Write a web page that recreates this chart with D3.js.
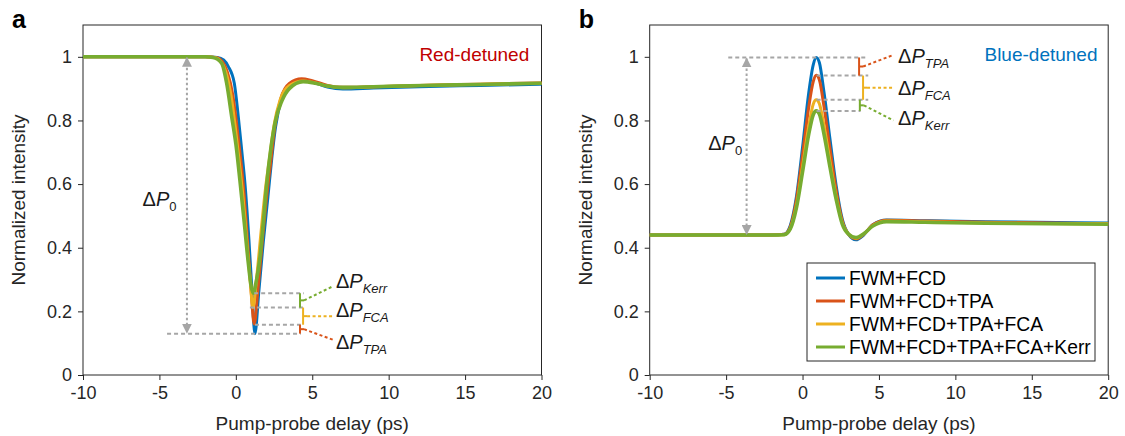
<!DOCTYPE html>
<html>
<head>
<meta charset="utf-8">
<script src="https://cdn.jsdelivr.net/npm/d3@7"></script>
<style>
    body { margin: 0; background: #fff; }
    svg text { font-family: "Liberation Sans", Arial, sans-serif; }
</style>
</head>
<body>
<svg id="chart" width="1125" height="436"></svg>
<script>
// series order: FWM+FCD, +TPA, +FCA, +Kerr
const seriesNames = ["FWM+FCD", "FWM+FCD+TPA", "FWM+FCD+TPA+FCA", "FWM+FCD+TPA+FCA+Kerr"];
const seriesColors = ["#0072BD", "#D95319", "#EDB120", "#77AC30"];
const xTicks = [-10, -5, 0, 5, 10, 15, 20];
const yTicks = [0, 0.2, 0.4, 0.6, 0.8, 1];

// panel a, red-detuned: [delay ps, normalized intensity]
const redFcd = [[-10, 1], [-2, 1], [-1.2, 0.998], [-0.8, 0.99], [-0.5, 0.97], [-0.1, 0.917], [0.16, 0.812],
    [0.38, 0.708], [0.6, 0.6], [0.85, 0.43], [1.05, 0.27], [1.25, 0.13], [1.5, 0.26], [1.8, 0.42], [2.1, 0.56],
    [2.35, 0.68], [2.6, 0.78], [3.0, 0.87], [3.5, 0.912], [4.3, 0.928], [5.0, 0.921], [6.0, 0.905], [7.0, 0.899],
    [9, 0.902], [12, 0.906], [16, 0.91], [20, 0.914]];
const redTpa = [[-10, 1], [-2, 1], [-1.3, 0.998], [-0.9, 0.986], [-0.55, 0.952], [-0.2, 0.88], [0.05, 0.79],
    [0.3, 0.685], [0.52, 0.58], [0.75, 0.43], [0.98, 0.28], [1.2, 0.16], [1.45, 0.27], [1.75, 0.43], [2.05, 0.575],
    [2.25, 0.655], [2.55, 0.78], [2.95, 0.87], [3.5, 0.916], [4.3, 0.931], [5.0, 0.925], [6.0, 0.91], [7.0, 0.904],
    [9, 0.906], [12, 0.91], [16, 0.914], [20, 0.918]];
const redFca = [[-10, 1], [-2, 1], [-1.4, 0.998], [-1.0, 0.986], [-0.65, 0.952], [-0.3, 0.875], [-0.05, 0.785],
    [0.2, 0.68], [0.45, 0.57], [0.7, 0.43], [0.93, 0.3], [1.12, 0.212], [1.35, 0.3], [1.65, 0.45], [1.95, 0.59],
    [2.2, 0.68], [2.5, 0.785], [2.9, 0.865], [3.5, 0.91], [4.4, 0.924], [5.0, 0.92], [6.0, 0.908], [7.0, 0.903],
    [9, 0.906], [12, 0.91], [16, 0.914], [20, 0.917]];
const redKerr = [[-10, 1], [-2, 1], [-1.5, 0.998], [-0.93, 0.98], [-0.6, 0.917], [-0.27, 0.812], [0.05, 0.708],
    [0.27, 0.61], [0.55, 0.48], [0.82, 0.35], [1.0, 0.28], [1.15, 0.257], [1.32, 0.29], [1.58, 0.37], [1.8, 0.48],
    [2.02, 0.6], [2.3, 0.715], [2.6, 0.8], [3.0, 0.86], [3.5, 0.9], [4.4, 0.922], [5.2, 0.917], [6.0, 0.908],
    [6.8, 0.904], [9, 0.906], [12.3, 0.91], [16, 0.913], [20, 0.917]];

// panel b, blue-detuned
const blueFcd = [[-10, 0.44], [-2, 0.44], [-1.2, 0.442], [-0.8, 0.47], [-0.4, 0.56], [0, 0.715], [0.4, 0.885],
    [0.7, 0.975], [0.9, 0.998], [1.1, 0.982], [1.4, 0.89], [1.8, 0.74], [2.2, 0.595], [2.6, 0.49], [3.0, 0.443],
    [3.5, 0.425], [4.0, 0.44], [4.6, 0.472], [5.5, 0.487], [8, 0.485], [12, 0.482], [20, 0.478]];
const blueTpa = [[-10, 0.44], [-2, 0.44], [-1.2, 0.442], [-0.8, 0.466], [-0.4, 0.55], [0, 0.69], [0.4, 0.84],
    [0.7, 0.922], [0.9, 0.942], [1.1, 0.928], [1.4, 0.845], [1.8, 0.71], [2.2, 0.58], [2.6, 0.485], [3.0, 0.443],
    [3.5, 0.428], [4.0, 0.442], [4.6, 0.472], [5.5, 0.486], [8, 0.484], [12, 0.48], [20, 0.476]];
const blueFca = [[-10, 0.44], [-2, 0.44], [-1.2, 0.441], [-0.8, 0.461], [-0.4, 0.533], [0, 0.655], [0.4, 0.78],
    [0.7, 0.851], [0.9, 0.865], [1.1, 0.853], [1.4, 0.785], [1.8, 0.67], [2.2, 0.56], [2.6, 0.478], [3.0, 0.443],
    [3.5, 0.43], [4.0, 0.443], [4.6, 0.47], [5.5, 0.484], [8, 0.482], [12, 0.478], [20, 0.475]];
const blueKerr = [[-10, 0.44], [-2, 0.44], [-1.2, 0.441], [-0.8, 0.459], [-0.4, 0.525], [0, 0.638], [0.4, 0.755],
    [0.7, 0.818], [0.9, 0.83], [1.1, 0.82], [1.4, 0.758], [1.8, 0.652], [2.2, 0.552], [2.6, 0.474], [3.0, 0.443],
    [3.5, 0.432], [4.0, 0.444], [4.6, 0.468], [5.5, 0.482], [8, 0.48], [12, 0.477], [20, 0.474]];

// extreme levels marked by the gray guides (FCD, TPA, FCA, Kerr)
const redLevels = [0.13, 0.158, 0.212, 0.257];
const blueLevels = [0.998, 0.941, 0.865, 0.830];

const svg = d3.select("#chart");
const axisColor = "#262626";
const guideColor = "#A6A6A6";

svg.append("defs").append("marker")
    .attr("id", "arrow")
    .attr("viewBox", "0 0 10 10")
    .attr("refX", 9).attr("refY", 5)
    .attr("markerWidth", 10).attr("markerHeight", 10)
    .attr("markerUnits", "userSpaceOnUse")
    .attr("orient", "auto-start-reverse")
    .append("path")
    .attr("d", "M0,0L10,5L0,10Z")
    .attr("fill", guideColor);

function deltaLabel(g, x, y, sub, italicSub) {
    const t = g.append("text")
        .attr("x", x).attr("y", y)
        .attr("font-size", 20)
        .attr("fill", "#1a1a1a");
    t.append("tspan").text("Δ");
    t.append("tspan").attr("font-style", "italic").text("P");
    t.append("tspan")
        .attr("font-size", 13)
        .attr("dy", 5)
        .attr("font-style", italicSub ? "italic" : "normal")
        .text(sub);
}

function drawPanel(opts) {
    const x = d3.scaleLinear().domain([-10, 20]).range([opts.left, opts.left + 458.5]);
    const y = d3.scaleLinear().domain([0, 1.1]).range([375, 25]);
    const g = svg.append("g");

    // axes
    g.append("g")
        .attr("transform", "translate(0,375)")
        .call(d3.axisBottom(x).tickValues(xTicks).tickSize(5).tickPadding(6).tickFormat(d => String(d)))
        .call(a => a.select(".domain").remove())
        .call(a => a.selectAll("line").attr("stroke", axisColor))
        .call(a => a.selectAll("text").attr("font-size", 18).attr("fill", axisColor));
    g.append("g")
        .attr("transform", `translate(${opts.left},0)`)
        .call(d3.axisLeft(y).tickValues(yTicks).tickSize(5).tickPadding(6).tickFormat(d => String(d)))
        .call(a => a.select(".domain").remove())
        .call(a => a.selectAll("line").attr("stroke", axisColor))
        .call(a => a.selectAll("text").attr("font-size", 18).attr("fill", axisColor));
    g.append("rect")
        .attr("x", x(-10)).attr("y", y(1.1))
        .attr("width", x(20) - x(-10)).attr("height", y(0) - y(1.1))
        .attr("fill", "none").attr("stroke", axisColor).attr("stroke-width", 1);

    g.append("text")
        .attr("x", (x(-10) + x(20)) / 2).attr("y", 430)
        .attr("text-anchor", "middle").attr("font-size", 19).attr("fill", axisColor)
        .text("Pump-probe delay (ps)");
    g.append("text")
        .attr("transform", `translate(${opts.left - 58},${(y(0) + y(1.1)) / 2}) rotate(-90)`)
        .attr("text-anchor", "middle").attr("font-size", 19).attr("fill", axisColor)
        .text("Normalized intensity");
    g.append("text")
        .attr("x", opts.left - 71).attr("y", 28)
        .attr("font-size", 25).attr("font-weight", "bold").attr("fill", "#000")
        .text(opts.letter);

    // curves
    const line = d3.line()
        .x(d => x(d[0]))
        .y(d => y(d[1]))
        .curve(d3.curveMonotoneX);
    opts.series.forEach((s, i) => {
        g.append("path")
            .datum(s)
            .attr("d", line)
            .attr("fill", "none")
            .attr("stroke", seriesColors[i])
            .attr("stroke-width", i === 3 ? 3.6 : 3)
            .attr("stroke-linejoin", "round");
    });

    g.append("text")
        .attr("x", x(opts.tagX)).attr("y", y(0.987))
        .attr("text-anchor", "end").attr("font-size", 19)
        .attr("fill", opts.tagColor)
        .text(opts.tag);

    return {g, x, y};
}

// ---- panel a
const pa = drawPanel({
    left: 83, letter: "a", series: [redFcd, redTpa, redFca, redKerr],
    tag: "Red-detuned", tagColor: "#C00000", tagX: 19.2
});
(function annotateA({g, x, y}) {
    const L = redLevels;
    const dash = sel => sel.attr("stroke-width", 2).attr("stroke-dasharray", "4,3").attr("fill", "none");
    // big arrow
    g.append("line")
        .attr("x1", x(-3.2)).attr("x2", x(-3.2))
        .attr("y1", y(1) + 1).attr("y2", y(L[0]) - 1)
        .attr("stroke", guideColor).call(dash).attr("stroke-dasharray", "2.5,2.5")
        .attr("marker-start", "url(#arrow)").attr("marker-end", "url(#arrow)");
    // guide levels
    [[-4.5, 4.25], [1.25, 4.25], [0.92, 4.45], [1.2, 4.45]].forEach((r, i) => {
        g.append("line")
            .attr("x1", x(r[0])).attr("x2", x(r[1]))
            .attr("y1", y(L[i])).attr("y2", y(L[i]))
            .attr("stroke", guideColor).call(dash);
    });
    // brackets: TPA, FCA, Kerr
    const br = [
        {x0: 4.2, lo: L[0], hi: L[1], c: seriesColors[1], tx: 6.4, ty: 0.11},
        {x0: 4.4, lo: L[1], hi: L[2], c: seriesColors[2], tx: 6.4, ty: null},
        {x0: 4.2, lo: L[2], hi: L[3], c: seriesColors[3], tx: 6.4, ty: 0.28}
    ];
    br.forEach(b => {
        const xm = x(b.x0), mid = (b.lo + b.hi) / 2;
        g.append("line").attr("x1", xm).attr("x2", xm).attr("y1", y(b.lo)).attr("y2", y(b.hi))
            .attr("stroke", b.c).attr("stroke-width", 2);
        g.append("line").attr("x1", xm).attr("x2", xm + 4).attr("y1", y(mid)).attr("y2", y(mid))
            .attr("stroke", b.c).attr("stroke-width", 2);
        g.append("line")
            .attr("x1", xm + 4).attr("y1", y(mid))
            .attr("x2", x(b.tx)).attr("y2", y(b.ty === null ? mid : b.ty))
            .attr("stroke", b.c).call(dash).attr("stroke-dasharray", "3,2.5");
    });
    deltaLabel(g, x(6.55), y(0.272), "Kerr", true);
    deltaLabel(g, x(6.55), y(0.182), "FCA", true);
    deltaLabel(g, x(6.55), y(0.083), "TPA", true);
    deltaLabel(g, x(-6.1), y(0.532), "0", false);
})(pa);

// ---- panel b
const pb = drawPanel({
    left: 649.7, letter: "b", series: [blueFcd, blueTpa, blueFca, blueKerr],
    tag: "Blue-detuned", tagColor: "#0072BD", tagX: 19.3
});
(function annotateB({g, x, y}) {
    const L = blueLevels;
    const dash = sel => sel.attr("stroke-width", 2).attr("stroke-dasharray", "4,3").attr("fill", "none");
    g.append("line")
        .attr("x1", x(-3.66)).attr("x2", x(-3.66))
        .attr("y1", y(L[0]) + 1).attr("y2", y(0.44) - 1)
        .attr("stroke", guideColor).call(dash).attr("stroke-dasharray", "2.5,2.5")
        .attr("marker-start", "url(#arrow)").attr("marker-end", "url(#arrow)");
    [[-4.86, 4.3], [0.92, 4.3], [0.92, 4.3], [0.92, 3.8]].forEach((r, i) => {
        g.append("line")
            .attr("x1", x(r[0])).attr("x2", x(r[1]))
            .attr("y1", y(L[i])).attr("y2", y(L[i]))
            .attr("stroke", guideColor).call(dash);
    });
    const br = [
        {x0: 3.7, lo: L[1], hi: L[0], c: seriesColors[1], ty: 1.006},
        {x0: 3.96, lo: L[2], hi: L[1], c: seriesColors[2], ty: null},
        {x0: 3.75, lo: L[3], hi: L[2], c: seriesColors[3], ty: 0.80}
    ];
    br.forEach(b => {
        const xm = x(b.x0), mid = (b.lo + b.hi) / 2;
        g.append("line").attr("x1", xm).attr("x2", xm).attr("y1", y(b.lo)).attr("y2", y(b.hi))
            .attr("stroke", b.c).attr("stroke-width", 2);
        g.append("line").attr("x1", xm).attr("x2", xm + 4).attr("y1", y(mid)).attr("y2", y(mid))
            .attr("stroke", b.c).attr("stroke-width", 2);
        g.append("line")
            .attr("x1", xm + 4).attr("y1", y(mid))
            .attr("x2", x(5.95)).attr("y2", y(b.ty === null ? mid : b.ty))
            .attr("stroke", b.c).call(dash).attr("stroke-dasharray", "3,2.5");
    });
    deltaLabel(g, x(6.25), y(0.98), "TPA", true);
    deltaLabel(g, x(6.25), y(0.88), "FCA", true);
    deltaLabel(g, x(6.25), y(0.786), "Kerr", true);
    deltaLabel(g, x(-6.17), y(0.708), "0", false);

    // legend
    const lg = g.append("g").attr("transform", "translate(807,263)");
    lg.append("rect").attr("width", 288).attr("height", 98)
        .attr("fill", "#fff").attr("stroke", axisColor).attr("stroke-width", 1);
    seriesNames.forEach((name, i) => {
        const yy = 15 + i * 23;
        lg.append("line").attr("x1", 9).attr("x2", 38).attr("y1", yy).attr("y2", yy)
            .attr("stroke", seriesColors[i]).attr("stroke-width", 3);
        lg.append("text").attr("x", 42).attr("y", yy + 6.5)
            .attr("font-size", 19.3).attr("fill", "#000").text(name);
    });
})(pb);
</script>
</body>
</html>
